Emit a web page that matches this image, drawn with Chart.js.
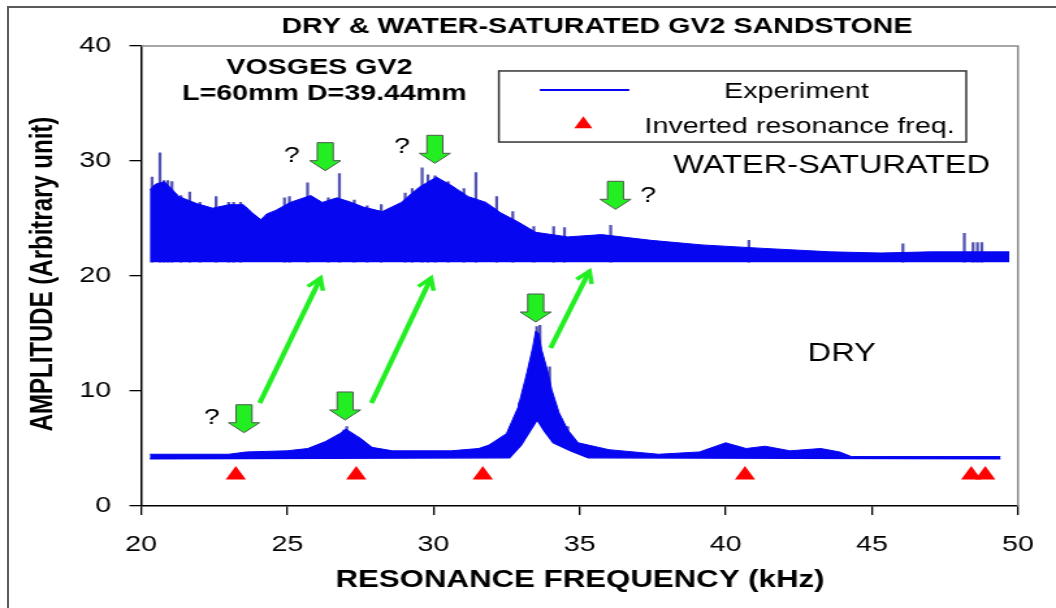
<!DOCTYPE html>
<html>
<head>
<meta charset="utf-8">
<title>Dry & water-saturated GV2 sandstone</title>
<script src="https://cdn.jsdelivr.net/npm/chart.js@4.4.0/dist/chart.umd.min.js"></script>
<style>
  html, body { margin: 0; padding: 0; background: #fff; }
  #frame { position: absolute; left: 7px; top: 6px; width: 1060px; height: 620px;
           border-left: 2px solid #5a5a5a; border-top: 2px solid #5a5a5a; }
  #mycanvas { position: absolute; left: 0; top: 0; }
</style>
</head>
<body>
<div id="frame"></div>
<!-- drawn narrow and shown wide, like the original sheet -->
<canvas id="mycanvas" width="812" height="608" style="width:1056px;height:608px"></canvas>
<script>
var STRETCH = 1056 / 812;

// water-saturated sample: upper envelope of the spectrum (kHz, amplitude)
var wetFreq = [20.3, 20.5, 20.8, 21.3, 21.9, 22.45, 23.0, 23.5, 23.8, 24.1, 24.3, 24.6, 25.1, 25.8, 26.2, 26.7,
               27.2, 27.6, 28.25, 28.9, 29.5, 30.1, 30.6, 31.2, 31.8, 32.3, 32.9, 33.5, 34.6, 35.75, 37.45,
               39.2, 41.3, 43.6, 45.3, 47.0, 48.2, 49.7];
var wetTop = [27.5, 28.0, 28.2, 26.9, 26.3, 25.9, 26.2, 26.2, 25.5, 24.9, 25.4, 25.7, 26.4, 27.0, 26.4, 26.8,
              26.4, 26.0, 25.6, 26.4, 27.7, 28.6, 27.9, 26.9, 26.4, 25.5, 24.7, 23.8, 23.4, 23.6, 23.1,
              22.7, 22.4, 22.1, 22.0, 22.1, 22.1, 22.1];
var wetFloor = 21.2;
// single tall lines sticking out of the wet spectrum
var wetSpikeFreq = [20.41, 20.68, 20.82, 20.95, 21.09, 21.4, 21.7, 22.05, 22.6, 23.03, 23.2, 23.44, 24.94, 25.11,
                    25.73, 26.44, 26.82, 27.33, 27.77, 28.25, 29.07, 29.31, 29.65, 29.85, 30.09, 30.54, 31.08,
                    31.49, 32.2, 32.75, 33.47, 34.15, 34.52, 36.1, 40.83, 46.1, 48.2, 48.5, 48.65, 48.8];
var wetSpikeTop = [28.6, 30.7, 28.3, 28.3, 28.2, 27.0, 27.3, 26.4, 26.9, 26.4, 26.4, 26.4, 26.8, 26.9,
                   28.1, 26.8, 28.9, 26.6, 26.1, 26.2, 27.2, 27.6, 29.4, 28.8, 28.7, 28.2, 27.6,
                   29.0, 26.9, 25.6, 24.3, 24.3, 24.2, 24.4, 23.1, 22.8, 23.7, 22.9, 22.9, 22.9];

// dry sample: upper and lower edge of the spectrum
var dryFreq = [20.3, 23.0, 23.6, 25.0, 25.7, 26.3, 26.8, 27.0, 27.5, 27.9, 28.6, 30.6, 31.55, 31.9, 32.5, 32.9,
               33.2, 33.4, 33.5, 33.6, 33.7, 33.9, 34.05, 34.3, 34.6, 34.95, 35.3, 36.0, 37.7, 39.1, 40.0,
               40.7, 41.35, 42.2, 43.25, 43.9, 44.3, 49.4];
var dryTop = [4.5, 4.5, 4.7, 4.8, 5.0, 5.6, 6.3, 6.7, 5.9, 5.1, 4.8, 4.8, 5.0, 5.3, 6.3, 8.6,
              11.6, 13.8, 15.2, 15.0, 13.6, 11.8, 10.1, 8.1, 6.6, 5.5, 5.3, 4.9, 4.5, 4.7, 5.5,
              5.0, 5.2, 4.8, 5.0, 4.7, 4.3, 4.3];
var dryLowFreq = [20.3, 32.6, 33.0, 33.3, 33.55, 33.8, 34.1, 34.7, 35.3, 49.4];
var dryLow = [4.1, 4.2, 5.3, 6.5, 7.5, 6.5, 5.5, 4.8, 4.2, 4.1];
var drySpikeFreq = [26.9, 27.0, 32.9, 33.5, 33.61, 33.94, 34.56];
var drySpikeLow = [5.5, 5.5, 7.0, 8.0, 8.0, 7.6, 5.5];
var drySpikeTop = [6.6, 6.9, 9.0, 15.6, 15.7, 12.1, 6.9];

// inverted resonance frequencies (kHz)
var invertedFreq = [23.24, 27.36, 31.69, 40.66, 48.4, 48.88];
var markerLevel = 2.7;

var xTicks = [20, 25, 30, 35, 40, 45, 50];
var yTicks = [0, 10, 20, 30, 40];

// annotations, in kHz / amplitude
var downArrows = [[26.30, 29.16], [30.05, 29.8], [36.23, 25.8], [33.50, 16.0], [26.98, 7.48], [23.52, 6.37]];
var questionMarks = [[25.15, 30.4], [28.93, 31.2], [37.35, 27.0], [22.42, 7.65]];
var shiftArrows = [[24.06, 8.96, 26.14, 19.83], [27.88, 8.96, 29.92, 19.83], [34.01, 13.74, 35.34, 20.43]];

function pts(xs, ys) {
  var out = [];
  for (var i = 0; i < xs.length; i++) out.push({x: xs[i], y: ys[i]});
  return out;
}
function bars(xs, lows, tops) {
  var out = [];
  for (var i = 0; i < xs.length; i++) {
    var lo = Array.isArray(lows) ? lows[i] : lows;
    out.push({x: xs[i], y: [lo, tops[i]]});
  }
  return out;
}

var BLUE = '#0606f0';
var SPIKE = '#5252b4';
var GREEN = '#22ee22';

function drawDownArrow(ctx, x, y) {
  var h = 28, hh = 10, hw = 15.5 / STRETCH, sw = 8 / STRETCH;
  ctx.beginPath();
  ctx.moveTo(x, y);
  ctx.lineTo(x - hw, y - hh);
  ctx.lineTo(x - sw, y - hh);
  ctx.lineTo(x - sw, y - h);
  ctx.lineTo(x + sw, y - h);
  ctx.lineTo(x + sw, y - hh);
  ctx.lineTo(x + hw, y - hh);
  ctx.closePath();
  ctx.fillStyle = GREEN;
  ctx.fill();
  ctx.strokeStyle = '#4a5a4a';
  ctx.lineWidth = 1;
  ctx.stroke();
}

function drawShiftArrow(ctx, x0, y0, x1, y1) {
  ctx.strokeStyle = GREEN;
  ctx.lineWidth = 4;
  ctx.lineCap = 'butt';
  ctx.beginPath();
  ctx.moveTo(x0, y0);
  ctx.lineTo(x1, y1);
  ctx.stroke();
  var a = Math.atan2(y1 - y0, x1 - x0), L = 13;
  ctx.lineWidth = 3.5;
  ctx.beginPath();
  ctx.moveTo(x1 - L * Math.cos(a - 0.5), y1 - L * Math.sin(a - 0.5));
  ctx.lineTo(x1, y1);
  ctx.lineTo(x1 - L * Math.cos(a + 0.5), y1 - L * Math.sin(a + 0.5));
  ctx.stroke();
}

var decorations = {
  id: 'decorations',
  afterDraw: function(chart) {
    var ctx = chart.ctx, xs = chart.scales.x, ys = chart.scales.y, a = chart.chartArea;
    function X(v) { return xs.getPixelForValue(v); }
    function Y(v) { return ys.getPixelForValue(v); }
    ctx.save();

    // top and right edge of the plot area
    ctx.strokeStyle = '#8a8a8a';
    ctx.lineWidth = 1.5;
    ctx.beginPath();
    ctx.moveTo(a.left, a.top);
    ctx.lineTo(a.right, a.top);
    ctx.lineTo(a.right, a.bottom);
    ctx.stroke();

    ctx.fillStyle = '#000';
    ctx.textAlign = 'center';
    ctx.textBaseline = 'middle';
    ctx.font = 'bold 22px "Liberation Sans", Arial, sans-serif';
    ctx.fillText('DRY & WATER-SATURATED GV2 SANDSTONE', 597 / STRETCH, 27);

    ctx.font = 'bold 24px "Liberation Sans", Arial, sans-serif';
    ctx.fillText('RESONANCE FREQUENCY (kHz)', 580 / STRETCH, 580);
    ctx.save();
    ctx.translate(43 / STRETCH, 274);
    ctx.rotate(-Math.PI / 2);
    ctx.fillText('AMPLITUDE (Arbitrary unit)', 0, 0);
    ctx.restore();

    ctx.font = 'bold 22px "Liberation Sans", Arial, sans-serif';
    ctx.fillText('VOSGES GV2', X(26.1), Y(38.1));
    ctx.fillText('L=60mm D=39.44mm', X(26.27), Y(35.85));

    ctx.font = '25px "Liberation Sans", Arial, sans-serif';
    ctx.fillText('WATER-SATURATED', X(43.63), Y(29.52));
    ctx.fillText('DRY', X(43.97), Y(13.2));

    ctx.font = '22px "Liberation Sans", Arial, sans-serif';
    questionMarks.forEach(function(q) { ctx.fillText('?', X(q[0]), Y(q[1])); });

    // legend
    ctx.strokeStyle = '#333';
    ctx.lineWidth = 1.5;
    ctx.strokeRect(X(32.24), Y(37.83), X(48.23) - X(32.24), Y(31.65) - Y(37.83));
    ctx.strokeStyle = BLUE;
    ctx.lineWidth = 2;
    ctx.beginPath();
    ctx.moveTo(X(33.64), Y(36.17));
    ctx.lineTo(X(36.7), Y(36.17));
    ctx.stroke();
    var tx = X(35.13), ty = Y(33.2), r = 8;
    ctx.fillStyle = '#ff0000';
    ctx.beginPath();
    ctx.moveTo(tx, ty - r);
    ctx.lineTo(tx + r * 0.866, ty + r / 2);
    ctx.lineTo(tx - r * 0.866, ty + r / 2);
    ctx.closePath();
    ctx.fill();
    ctx.fillStyle = '#000';
    ctx.font = '22px "Liberation Sans", Arial, sans-serif';
    ctx.fillText('Experiment', X(42.42), Y(36.03));
    ctx.textAlign = 'left';
    ctx.fillText('Inverted resonance freq.', X(37.22), Y(32.98));

    shiftArrows.forEach(function(s) { drawShiftArrow(ctx, X(s[0]), Y(s[1]), X(s[2]), Y(s[3])); });
    downArrows.forEach(function(d) { drawDownArrow(ctx, X(d[0]), Y(d[1])); });

    ctx.restore();
  }
};

var ctx = document.getElementById('mycanvas');

var chart = new Chart(ctx, {
  data: {
    datasets: [
      {
        type: 'line', label: 'Experiment', data: pts(wetFreq, wetTop), order: 2,
        borderColor: BLUE, borderWidth: 1, backgroundColor: BLUE, pointRadius: 0,
        fill: {value: wetFloor}
      },
      {
        type: 'bar', label: 'wet spikes', data: bars(wetSpikeFreq, wetFloor, wetSpikeTop), order: 3,
        backgroundColor: SPIKE, barThickness: 1.6
      },
      {
        type: 'line', label: 'dry', data: pts(dryFreq, dryTop), order: 2,
        borderColor: BLUE, borderWidth: 1, backgroundColor: BLUE, pointRadius: 0, fill: '+1'
      },
      {
        type: 'line', label: 'dry low', data: pts(dryLowFreq, dryLow), order: 2,
        borderColor: BLUE, borderWidth: 1.5, pointRadius: 0, fill: false
      },
      {
        type: 'bar', label: 'dry spikes', data: bars(drySpikeFreq, drySpikeLow, drySpikeTop), order: 3,
        backgroundColor: SPIKE, barThickness: 1.6
      },
      {
        type: 'scatter', label: 'Inverted resonance freq.', order: 1,
        data: invertedFreq.map(function(f) { return {x: f, y: markerLevel}; }),
        pointStyle: 'triangle', pointRadius: 9, backgroundColor: '#ff0000', borderWidth: 0
      }
    ]
  },
  options: {
    responsive: false,
    animation: false,
    devicePixelRatio: 1,
    layout: { padding: { left: 0, top: 46, right: 27, bottom: 0 } },
    plugins: { legend: { display: false }, tooltip: { enabled: false } },
    scales: {
      x: {
        type: 'linear', min: 20, max: 50, offset: false,
        afterBuildTicks: function(s) { s.ticks = xTicks.map(function(v) { return {value: v}; }); },
        afterFit: function(s) { s.height = 102; },
        ticks: { color: '#000', padding: 17, maxRotation: 0,
                 font: { family: '"Liberation Sans", Arial, sans-serif', size: 22 } },
        grid: { offset: false, drawOnChartArea: false, drawTicks: true, tickLength: 9, color: '#000', lineWidth: 1.3 },
        border: { color: '#000', width: 1.5 }
      },
      y: {
        type: 'linear', min: 0, max: 40,
        afterBuildTicks: function(s) { s.ticks = yTicks.map(function(v) { return {value: v}; }); },
        afterFit: function(s) { s.width = 108.5; },
        ticks: { color: '#000', padding: 14,
                 font: { family: '"Liberation Sans", Arial, sans-serif', size: 22 } },
        grid: { drawOnChartArea: false, drawTicks: true, tickLength: 9, color: '#000', lineWidth: 1.3 },
        border: { color: '#000', width: 1.5 }
      }
    }
  },
  plugins: [decorations]
});
</script>
</body>
</html>
